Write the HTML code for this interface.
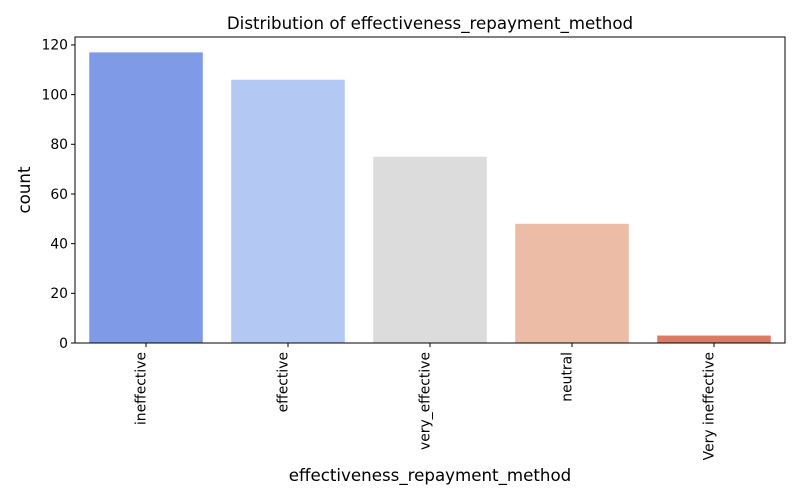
<!DOCTYPE html>
<html><head><meta charset="utf-8"><style>
body{margin:0;background:#fff;font-family:"DejaVu Sans","Liberation Sans",sans-serif}
</style></head><body>
<svg id="chart" width="800" height="500" xmlns="http://www.w3.org/2000/svg" font-family="DejaVu Sans, Liberation Sans, sans-serif">
<rect width="800" height="500" fill="#fff"/>
<text x="430" y="29" text-anchor="middle" font-size="16.67">Distribution of effectiveness_repayment_method</text>
<g id="bars"></g>
<g id="yticks"></g>
<g id="xticks"></g>
<rect x="75" y="37" width="710" height="306" fill="none" stroke="#000" stroke-width="1"/>
<text x="30" y="190" text-anchor="middle" font-size="16.67" transform="rotate(-90 30 190)">count</text>
<text x="430" y="481" text-anchor="middle" font-size="16.67">effectiveness_repayment_method</text>
</svg>
<script>
const categories = ["ineffective","effective","very_effective","neutral","Very ineffective"];
const counts = [117,106,75,48,3];
const colors = ["#7f9ae6","#b4c8f4","#dcdcdc","#edbca6","#db7b63"];
const yTicks = [0,20,40,60,80,100,120];
const NS="http://www.w3.org/2000/svg";
const L=75,R=785,B=343,T=37;
const yMax=123.2;
function y(v){return B-(v/yMax)*(B-T);}
const band=(R-L)/categories.length;
function xc(i){return L+band*(i+0.5);}
const bw=band*0.8;
const bars=document.getElementById('bars');
categories.forEach((c,i)=>{
  const r=document.createElementNS(NS,'rect');
  r.setAttribute('x',xc(i)-bw/2);r.setAttribute('y',y(counts[i]));
  r.setAttribute('width',bw);r.setAttribute('height',B-y(counts[i]));
  r.setAttribute('fill',colors[i]);
  
  
  bars.appendChild(r);
});
const yt=document.getElementById('yticks');
yTicks.forEach(v=>{
  const l=document.createElementNS(NS,'line');
  l.setAttribute('x1',L-4);l.setAttribute('x2',L);l.setAttribute('y1',y(v));l.setAttribute('y2',y(v));l.setAttribute('stroke','#000');
  
  
  yt.appendChild(l);
  const t=document.createElementNS(NS,'text');
  t.setAttribute('x',L-7);t.setAttribute('y',y(v)+4.8);t.setAttribute('text-anchor','end');t.setAttribute('font-size','13.9');
  t.textContent=v;
  
  
  yt.appendChild(t);
});
const xt=document.getElementById('xticks');
categories.forEach((c,i)=>{
  const x=xc(i);
  const l=document.createElementNS(NS,'line');
  l.setAttribute('x1',x);l.setAttribute('x2',x);l.setAttribute('y1',B);l.setAttribute('y2',B+4);l.setAttribute('stroke','#000');
  
  
  xt.appendChild(l);
  const t=document.createElementNS(NS,'text');
  const tx=x-0.5, ty=B+9;
  t.setAttribute('x',tx);t.setAttribute('y',ty);t.setAttribute('text-anchor','end');t.setAttribute('font-size','13.9');
  t.setAttribute('transform','rotate(-90 '+tx+' '+ty+')');
  t.textContent=c;
  
  
  xt.appendChild(t);
});
</script>
</body></html>
